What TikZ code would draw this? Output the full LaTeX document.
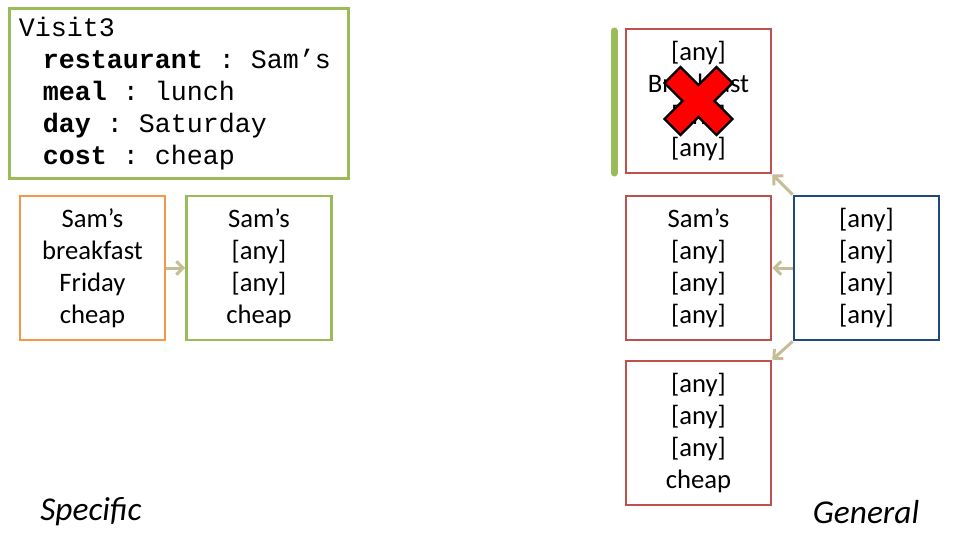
\documentclass[tikz,border=0pt]{standalone}
\usepackage{fontspec}
\setmainfont{Carlito}
\setmonofont{Liberation Mono}
\usetikzlibrary{arrows.meta}

\definecolor{leafgreen}{HTML}{9BBB59}
\definecolor{tangerine}{HTML}{F79646}
\definecolor{brick}{HTML}{C0504D}
\definecolor{navy}{HTML}{1F497D}
\definecolor{khaki}{HTML}{C4BD97}
\newcommand{\wild}{[any]}
\newcommand{\slot}[2]{\hspace*{18pt}\textbf{#1}\makebox[36pt]{:}#2}

\begin{document}
\begin{tikzpicture}[x=0.75pt, y=-0.75pt,
        box/.style={draw, line width=2pt, minimum width=108.75pt, minimum height=108pt,
            inner sep=0pt, align=center, font=\fontsize{20}{24}\selectfont},
        arr/.style={khaki, line width=2.25pt, -{Straight Barb[length=5pt, width=10pt]}}]
            \useasboundingbox (0, 0) rectangle (960, 540);

            \node[draw=leafgreen, line width=2pt, anchor=north west, minimum width=254.25pt,
                minimum height=127.5pt, text width=240pt, inner xsep=6.5pt, align=left,
                font=\ttfamily\fontsize{20}{24}\selectfont] (visit) at (8, 7)
                {Visit3\\
                \slot{restaurant}{Sam’s}\\
                \slot{meal}{lunch}\\
                \slot{day}{Saturday}\\
                \slot{cost}{cheap}};

            \node[box, draw=tangerine] (orange) at (92.5, 268) {Sam’s\\breakfast\\Friday\\cheap};
            \node[box, draw=leafgreen] (match) at (259, 268) {Sam’s\\\wild\\\wild\\cheap};
            \draw[arr] (orange) -- (match);

            \node[box, draw=brick] (brk) at (698.5, 101) {\wild\\Breakfast\\\wild\\\wild};
            \node[box, draw=brick] (sams) at (698.5, 268) {Sam’s\\\wild\\\wild\\\wild};
            \node[box, draw=brick] (cheap) at (698.5, 433) {\wild\\\wild\\\wild\\cheap};
            \node[box, draw=navy] (top) at (866.5, 268) {\wild\\\wild\\\wild\\\wild};
            \draw[arr] (top.north west) -- (brk.south east);
            \draw[arr] (top.west) -- (sams.east);
            \draw[arr] (top.south west) -- (cheap.north east);

            \draw[leafgreen, line width=5.25pt, line cap=round]
                ([xshift=-8pt, yshift=-2.5pt]brk.north west) -- ([xshift=-8pt, yshift=1pt]brk.south west);
            \begin{scope}[shift={(brk.center)}]
                \draw[fill=red, line width=1.75pt] (0, -16) -- (18, -34) -- (34, -18) -- (16, 0)
                    -- (34, 18) -- (18, 34) -- (0, 16) -- (-18, 34) -- (-34, 18) -- (-16, 0)
                    -- (-34, -18) -- (-18, -34) -- cycle;
            \end{scope}

            \node[font=\itshape\fontsize{25}{30}\selectfont] (specific) at (91, 512) {Specific};
            \node[font=\itshape\fontsize{25}{30}\selectfont] (general) at (866, 512) {General};
        \end{tikzpicture}
\end{document}
